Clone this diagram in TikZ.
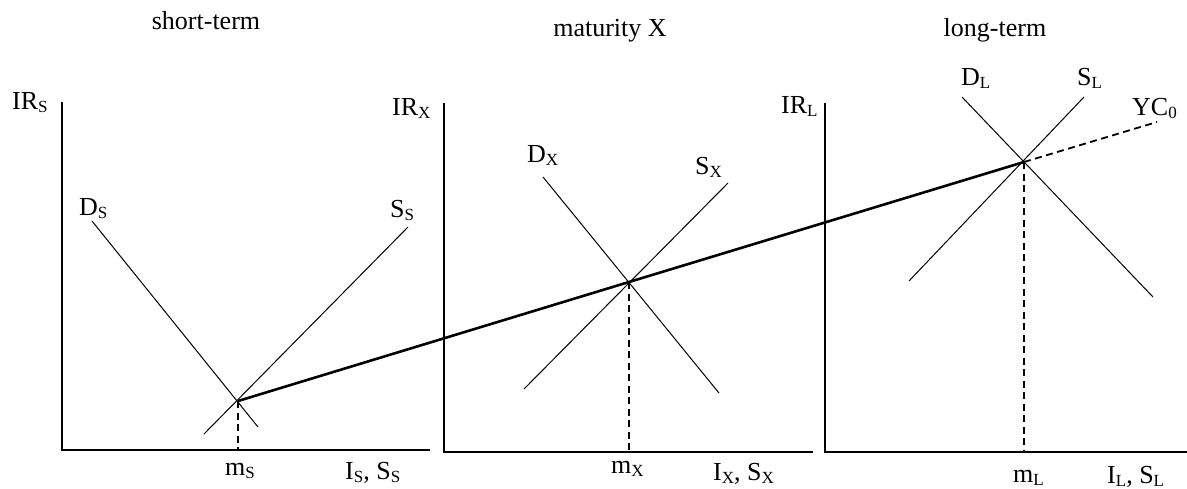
\documentclass[tikz,border=0pt]{standalone}
\usepackage{fontspec}
\setmainfont{Liberation Serif}
\newcommand\lsub[1]{\raisebox{-0.13em}{\fontsize{17}{17}\selectfont #1}}
\begin{document}
\begin{tikzpicture}[x=1pt,y=-1pt,
  lbl/.style={inner sep=0pt,anchor=base west,font=\fontsize{26}{30}\selectfont},
  ttl/.style={inner sep=0pt,anchor=base,font=\fontsize{26}{30}\selectfont},
  axis/.style={line width=1.3pt},
  curve/.style={line width=1pt},
  yc/.style={line width=2.6pt},
  guide/.style={line width=1.8pt,dash pattern=on 7pt off 4.5pt}]
\useasboundingbox (0,0) rectangle (1187,488);
% titles
\node[ttl] (t1) at (206,29) {short-term};
\node[ttl] (t2) at (610,36) {maturity X};
\node[ttl] (t3) at (995,36) {long-term};
% axes
\coordinate (o1) at (62,450); \coordinate (y1) at (62,102); \coordinate (x1) at (430,450);
\coordinate (o2) at (444,452); \coordinate (y2) at (444,103); \coordinate (x2) at (813,452);
\coordinate (o3) at (825,452); \coordinate (y3) at (825,103); \coordinate (x3) at (1187,452);
\draw[axis] (y1) -- (o1) -- (x1);
\draw[axis] (y2) -- (o2) -- (x2);
\draw[axis] (y3) -- (o3) -- (x3);
% curves
\coordinate (dS1) at (92,221); \coordinate (dS2) at (258,427);
\coordinate (sS1) at (204,434); \coordinate (sS2) at (408,227);
\coordinate (dX1) at (543,177); \coordinate (dX2) at (719,393);
\coordinate (sX1) at (524,389); \coordinate (sX2) at (728,183);
\coordinate (dL1) at (962,97); \coordinate (dL2) at (1153,297);
\coordinate (sL1) at (909,281); \coordinate (sL2) at (1084,97);
\draw[curve] (dS1) -- (dS2);
\draw[curve] (sS1) -- (sS2);
\draw[curve] (dX1) -- (dX2);
\draw[curve] (sX1) -- (sX2);
\draw[curve] (dL1) -- (dL2);
\draw[curve] (sL1) -- (sL2);
% equilibria
\coordinate (eS) at (238,401);
\coordinate (eX) at (629,282);
\coordinate (eL) at (1024,162);
\coordinate (ycEnd) at (1157,122);
\draw[guide] (eS) -- (eS |- o1);
\draw[guide] (eX) -- (eX |- o2);
\draw[guide] (eL) -- (eL |- o3);
\draw[yc] (eS) -- (eX) -- (eL);
\draw[guide] (eL) -- (ycEnd);
% labels
\node[lbl] (irS) at (12,109) {IR\lsub{S}};
\node[lbl] (irX) at (392,115) {IR\lsub{X}};
\node[lbl] (irL) at (781,113) {IR\lsub{L}};
\node[lbl] (lDS) at (79,215) {D\lsub{S}};
\node[lbl] (lSS) at (390,217) {S\lsub{S}};
\node[lbl] (lDX) at (527,162) {D\lsub{X}};
\node[lbl] (lSX) at (695,174) {S\lsub{X}};
\node[lbl] (lDL) at (961,85) {D\lsub{L}};
\node[lbl] (lSL) at (1077,85) {S\lsub{L}};
\node[lbl] (lYC) at (1132,115) {YC\lsub{0}};
\node[lbl] (mS) at (225,475) {m\lsub{S}};
\node[lbl] (aS) at (345,479) {I\lsub{S}, S\lsub{S}};
\node[lbl] (mX) at (611,473) {m\lsub{X}};
\node[lbl] (aX) at (713,480) {I\lsub{X}, S\lsub{X}};
\node[lbl] (mL) at (1013,482) {m\lsub{L}};
\node[lbl] (aL) at (1107,483) {I\lsub{L}, S\lsub{L}};
\end{tikzpicture}
\end{document}
